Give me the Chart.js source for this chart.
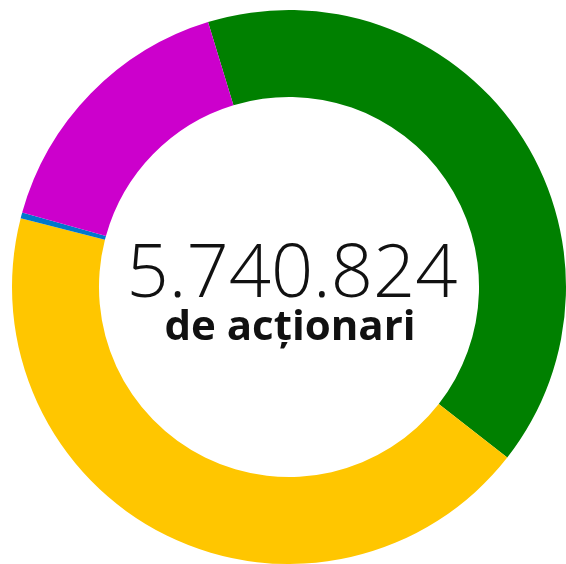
<!DOCTYPE html>
<html lang="ro">
<head>
<meta charset="utf-8">
<title>Acționari</title>
<script src="https://cdn.jsdelivr.net/npm/chart.js@4"></script>
<style>
    html, body { margin: 0; padding: 0; background: #ffffff; }
    #wrap { width: 566px; height: 564px; position: relative; }
</style>
</head>
<body>
<div id="wrap"><canvas id="actionariChart"></canvas></div>
<script>
// Share of shareholders by category (percent)
const categories = ['Categoria 1', 'Categoria 2', 'Categoria 3', 'Categoria 4'];
const shares = [40.28, 43.44, 0.33, 15.95];
const colors = ['#008000', '#ffc600', '#0077cc', '#cc00cc'];

const totalLabel = '5.740.824';
const subLabel = 'de acționari';

// Draws the total in the hole of the doughnut
const centerText = {
    id: 'centerText',
    afterDraw(chart) {
        const meta = chart.getDatasetMeta(0);
        if (!meta.data.length) return;
        const x = meta.data[0].x;
        const y = meta.data[0].y;
        const ctx = chart.ctx;
        ctx.save();
        ctx.fillStyle = '#111111';
        ctx.textAlign = 'center';
        ctx.textBaseline = 'alphabetic';
        ctx.font = '300 74px "Open Sans"';
        ctx.fillText(totalLabel, x + 3, y + 10);
        ctx.font = 'bold 42px "Open Sans"';
        ctx.fillText(subLabel, x + 1, y + 53);
        ctx.restore();
    }
};

document.addEventListener('DOMContentLoaded', function() {
    const ctx = document.getElementById('actionariChart');
    new Chart(ctx, {
        type: 'doughnut',
        data: {
            labels: categories,
            datasets: [{
                data: shares,
                backgroundColor: colors,
                borderWidth: 0
            }]
        },
        options: {
            responsive: true,
            maintainAspectRatio: false,
            animation: false,
            rotation: -17,
            cutout: '68.6%',
            layout: { padding: { left: 12, top: 10, right: 0, bottom: 0 } },
            plugins: {
                legend: { display: false },
                tooltip: { enabled: true }
            }
        },
        plugins: [centerText]
    });
});
</script>
</body>
</html>
